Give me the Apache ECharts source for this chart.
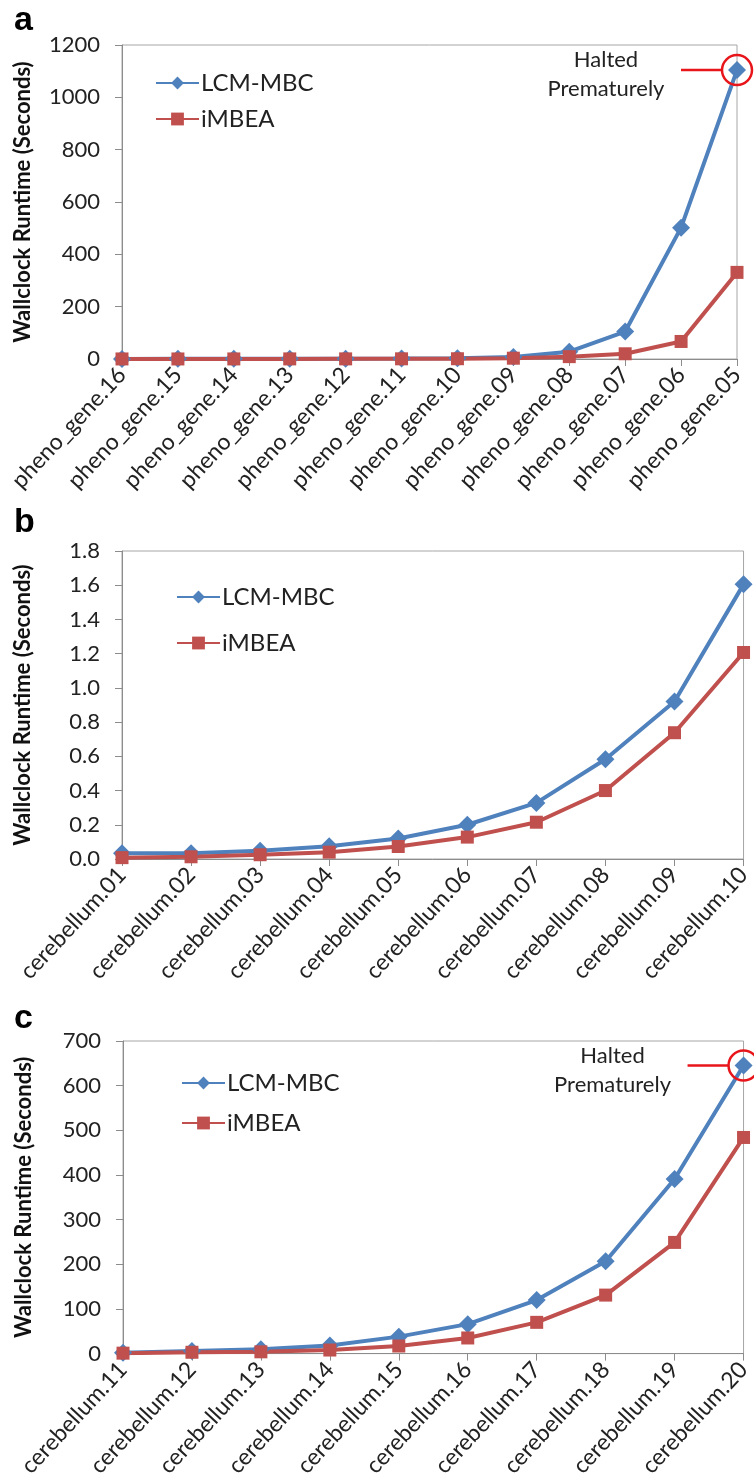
<!DOCTYPE html>
<html>
<head>
<meta charset="utf-8">
<script src="https://cdn.jsdelivr.net/npm/echarts@6/dist/echarts.min.js"></script>
<style>
  html, body { margin: 0; padding: 0; background: #fff; }
  #chart { width: 754px; height: 1480px; }
</style>
</head>
<body>
<div id="chart"></div>
<script>
const geneCats = ['pheno_gene.16', 'pheno_gene.15', 'pheno_gene.14', 'pheno_gene.13', 'pheno_gene.12', 'pheno_gene.11',
  'pheno_gene.10', 'pheno_gene.09', 'pheno_gene.08', 'pheno_gene.07', 'pheno_gene.06', 'pheno_gene.05'];
const geneLcm = [0.4, 0.5, 0.6, 0.8, 1, 1.5, 2.5, 8, 28, 105, 502, 1104];
const geneImbea = [0.2, 0.2, 0.3, 0.4, 0.5, 0.7, 1, 3, 9, 20, 67, 331];

const cbCatsB = ['cerebellum.01', 'cerebellum.02', 'cerebellum.03', 'cerebellum.04', 'cerebellum.05',
  'cerebellum.06', 'cerebellum.07', 'cerebellum.08', 'cerebellum.09', 'cerebellum.10'];
const cbLcmB = [0.033, 0.033, 0.048, 0.075, 0.12, 0.2, 0.328, 0.583, 0.92, 1.605];
const cbImbeaB = [0.008, 0.013, 0.025, 0.04, 0.073, 0.128, 0.215, 0.4, 0.738, 1.207];

const cbCatsC = ['cerebellum.11', 'cerebellum.12', 'cerebellum.13', 'cerebellum.14', 'cerebellum.15',
  'cerebellum.16', 'cerebellum.17', 'cerebellum.18', 'cerebellum.19', 'cerebellum.20'];
const cbLcmC = [2, 6, 10, 18, 38, 66, 120, 207, 391, 645];
const cbImbeaC = [1, 3, 4, 8, 17, 35, 70, 131, 249, 484];

const yRanges = [
  { min: 0, max: 1200, interval: 200, digits: 0 },
  { min: 0, max: 1.8, interval: 0.2, digits: 1 },
  { min: 0, max: 700, interval: 100, digits: 0 },
];
const panelLetters = ['a', 'b', 'c'];
const haltedNote = ['Halted', 'Prematurely'];

const BLUE = '#4F81BD';
const RED = '#C0504D';
const FONT = 'Lato, "Open Sans", sans-serif';

const grids = [
  { left: 122, top: 45, width: 615, height: 314 },
  { left: 122, top: 551, width: 623, height: 308 },
  { left: 123, top: 1041, width: 624, height: 313 },
];
const legendPos = [
  { left: 150, top: 66, itemGap: 12 },
  { left: 171, top: 580, itemGap: 22 },
  { left: 176, top: 1066, itemGap: 16 },
];
const letterTops = [4, 506, 1002];
const catSets = [geneCats, cbCatsB, cbCatsC];
const lcmSets = [geneLcm, cbLcmB, cbLcmC];
const imbeaSets = [geneImbea, cbImbeaB, cbImbeaC];

const chart = echarts.init(document.getElementById('chart'));

const xAxis = catSets.map((cats, i) => ({
  type: 'category',
  gridIndex: i,
  data: cats,
  boundaryGap: false,
  axisLine: { lineStyle: { color: '#8c8c8c', width: 1 } },
  axisTick: { alignWithLabel: true, length: 7, lineStyle: { color: '#8c8c8c' } },
  axisLabel: { rotate: 47, interval: 0, margin: 12, color: '#222', fontSize: 23, fontFamily: FONT },
}));

const yAxis = yRanges.map((r, i) => ({
  type: 'value',
  gridIndex: i,
  min: r.min,
  max: r.max,
  interval: r.interval,
  name: 'Wallclock Runtime (Seconds)',
  nameLocation: 'middle',
  nameGap: 88,
  nameTextStyle: { fontSize: 22, fontWeight: 'bold', color: '#111', fontFamily: FONT },
  axisLine: { show: true, lineStyle: { color: '#8c8c8c' } },
  axisTick: { show: true, length: 7, lineStyle: { color: '#8c8c8c' } },
  splitLine: { show: false },
  axisLabel: {
    margin: 22, color: '#222', fontSize: 22, fontFamily: FONT,
    formatter: (v) => v.toFixed(r.digits),
  },
}));

const series = [];
catSets.forEach((cats, i) => {
  series.push({
    name: 'LCM-MBC', type: 'line', xAxisIndex: i, yAxisIndex: i,
    data: lcmSets[i],
    symbol: 'diamond', symbolSize: 18,
    lineStyle: { color: BLUE, width: 4 },
    itemStyle: { color: BLUE },
  });
  series.push({
    name: 'iMBEA', type: 'line', xAxisIndex: i, yAxisIndex: i,
    data: imbeaSets[i],
    symbol: 'rect', symbolSize: 13,
    lineStyle: { color: RED, width: 4 },
    itemStyle: { color: RED },
  });
});

chart.setOption({
  animation: false,
  backgroundColor: '#fff',
  textStyle: { fontFamily: FONT },
  grid: grids.map((g) => ({ ...g, show: true, borderColor: '#a6a6a6', borderWidth: 1 })),
  legend: legendPos.map((p) => ({
    ...p,
    orient: 'vertical',
    data: ['LCM-MBC', 'iMBEA'],
    itemWidth: 43,
    itemHeight: 16,
    textStyle: { fontSize: 24, color: '#222', fontFamily: FONT, padding: [0, 0, 0, -3] },
  })),
  xAxis,
  yAxis,
  series,
});

// panel letters and the "Halted Prematurely" notes, placed from the library's scales
const graphic = panelLetters.map((t, i) => ({
  type: 'text', left: 14, top: letterTops[i],
  style: { text: t, font: 'bold 34px Arial, "Liberation Sans", sans-serif', fill: '#000' },
}));

[[0, geneLcm], [4, cbLcmC]].forEach(([si, vals]) => {
  const last = vals.length - 1;
  const [px, py] = chart.convertToPixel({ seriesIndex: si }, [last, vals[last]]);
  graphic.push({
    type: 'line',
    shape: { x1: px - 56, y1: py, x2: px - 15, y2: py },
    style: { stroke: '#e8151b', lineWidth: 2.5 },
  });
  graphic.push({
    type: 'circle',
    shape: { cx: px, cy: py, r: 15 },
    style: { fill: 'none', stroke: '#e8151b', lineWidth: 2.5 },
    z: 100,
  });
  haltedNote.forEach((line, k) => {
    graphic.push({
      type: 'text',
      x: px - 131, y: py - 10 + k * 29,
      style: { text: line, font: '22px ' + FONT, fill: '#222', align: 'center', verticalAlign: 'middle' },
    });
  });
});

chart.setOption({ graphic });
</script>
</body>
</html>
